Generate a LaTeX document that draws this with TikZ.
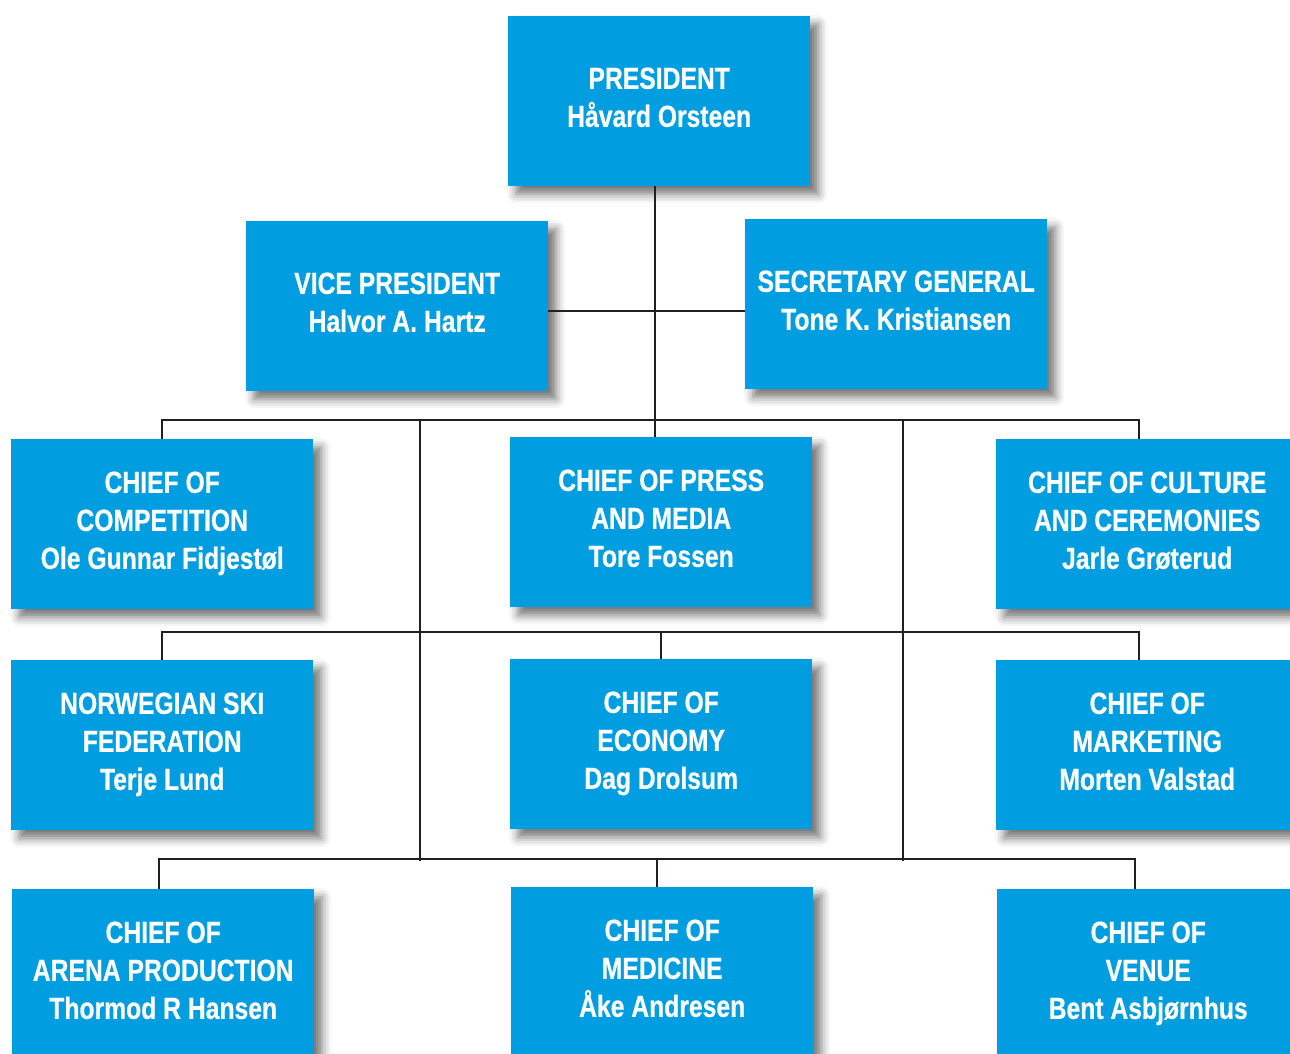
\documentclass[tikz,border=0pt]{standalone}
\usepackage{fontspec}
\newfontfamily\chartfont{Liberation Sans}[FakeStretch=0.81,BoldFeatures={FakeBold=0.6}]
\usetikzlibrary{shadows.blur}
\definecolor{chartblue}{RGB}{0,158,224}
\definecolor{chartline}{RGB}{35,31,32}

\begin{document}
\begin{tikzpicture}[x=1pt,y=-1pt,
box/.style={fill=chartblue,text=white,anchor=north west,minimum width=302pt,minimum height=170pt,inner sep=0pt,align=center,text depth=8pt,
  font=\chartfont\bfseries\fontsize{30.5}{38}\selectfont,
  blur shadow={shadow xshift=8pt,shadow yshift=-8pt,shadow blur radius=9pt,shadow opacity=55}},
wire/.style={draw=chartline,line width=2.4pt}]
\clip (0,0) rectangle (1290,1054);
\foreach \n/\x/\y/\t in {pres/508/16/{PRESIDENT\\Håvard Orsteen},
  vp/246/221/{VICE PRESIDENT\\Halvor A. Hartz},
  sg/745/219/{SECRETARY GENERAL\\Tone K. Kristiansen},
  comp/11/439/{CHIEF OF\\COMPETITION\\Ole Gunnar Fidjestøl},
  press/510/437/{CHIEF OF PRESS\\AND MEDIA\\Tore Fossen},
  cult/996/439/{CHIEF OF CULTURE\\AND CEREMONIES\\Jarle Grøterud},
  nsf/11/660/{NORWEGIAN SKI\\FEDERATION\\Terje Lund},
  econ/510/659/{CHIEF OF\\ECONOMY\\Dag Drolsum},
  mkt/996/660/{CHIEF OF\\MARKETING\\Morten Valstad},
  arena/12/889/{CHIEF OF\\ARENA PRODUCTION\\Thormod R Hansen},
  med/511/887/{CHIEF OF\\MEDICINE\\Åke Andresen},
  venue/997/889/{CHIEF OF\\VENUE\\Bent Asbjørnhus}}
\node[box] (\n) at (\x,\y) {\t};

\coordinate (bus3) at (0,420);
\coordinate (bus4) at (0,632);
\coordinate (bus5) at (0,859);
\coordinate (lt) at (420,420);
\coordinate (lb) at (420,861);
\coordinate (rt) at (903,420);
\coordinate (rb) at (903,861);

\draw[wire] ([xshift=-4pt]pres.south) -- ([xshift=-4pt]pres.south |- press.north);
\draw[wire] ([yshift=-5pt]vp.east) -- ([yshift=-5pt]vp.east -| sg.west);
\draw[wire] (comp.north) -- (comp.north |- bus3) -- ([xshift=-8pt]cult.north |- bus3) -- ([xshift=-8pt]cult.north);
\draw[wire] (lt) -- (lb) (rt) -- (rb);
\draw[wire] (nsf.north) -- (nsf.north |- bus4) -- ([xshift=-8pt]mkt.north |- bus4) -- ([xshift=-8pt]mkt.north);
\draw[wire] (econ.north) -- (econ.north |- bus4);
\draw[wire] ([xshift=-4pt]arena.north) -- ([xshift=-4pt]arena.north |- bus5) -- ([xshift=-13pt]venue.north |- bus5) -- ([xshift=-13pt]venue.north);
\draw[wire] ([xshift=-5pt]med.north) -- ([xshift=-5pt]med.north |- bus5);
\end{tikzpicture}
\end{document}
